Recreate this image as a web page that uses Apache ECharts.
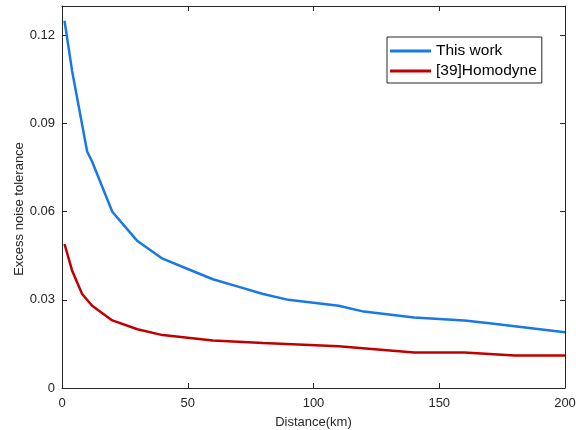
<!DOCTYPE html>
<html><head><meta charset="utf-8">
<script src="https://cdn.jsdelivr.net/npm/echarts@6/dist/echarts.min.js"></script>
<style>html,body{margin:0;padding:0;background:#fff}#c{width:576px;height:430px}</style>
</head><body><div id="c"></div>
<script>
const seriesNames = ['This work', '[39]Homodyne'];
const thisWorkX = [1, 4, 10, 12, 20, 30, 40, 50, 60, 70, 80, 90, 100, 110, 120, 130, 140, 150, 160, 170, 180, 190, 200];
const thisWorkY = [0.125, 0.108, 0.0805, 0.077, 0.060, 0.050, 0.044, 0.0405, 0.037, 0.0345, 0.032, 0.030, 0.029, 0.028, 0.026, 0.025, 0.024, 0.0235, 0.023, 0.022, 0.021, 0.020, 0.019];
const homodyneX = [1, 4, 8, 12, 20, 30, 40, 60, 80, 110, 140, 160, 180, 200];
const homodyneY = [0.049, 0.040, 0.032, 0.028, 0.023, 0.020, 0.018, 0.0162, 0.0153, 0.0142, 0.0121, 0.0121, 0.0111, 0.0111];
const xTicks = [0, 50, 100, 150, 200];
const yTicks = [0, 0.03, 0.06, 0.09, 0.12];
const xName = 'Distance(km)';
const yName = 'Excess noise tolerance';

const pairs = (xs, ys) => xs.map((x, i) => [x, ys[i]]);
const axisCol = '#262626';
const font = 'Liberation Sans, Arial, Helvetica, sans-serif';

const chart = echarts.init(document.getElementById('c'), null, {renderer: 'canvas'});
const baseX = {
  type: 'value', min: 0, max: 200,
  axisLine: {show: true, onZero: false, lineStyle: {color: axisCol, width: 1}},
  axisTick: {show: true, inside: true, length: 5, customValues: xTicks, lineStyle: {color: axisCol}},
  splitLine: {show: false}
};
const baseY = {
  type: 'value', min: 0, max: 0.13,
  axisLine: {show: true, onZero: false, lineStyle: {color: axisCol, width: 1}},
  axisTick: {show: true, inside: true, length: 5, customValues: yTicks, lineStyle: {color: axisCol}},
  splitLine: {show: false}
};
chart.setOption({
  animation: false,
  backgroundColor: '#fff',
  grid: {left: 62, right: 11, top: 6, bottom: 42, containLabel: false, outerBoundsMode: 'none'},
  xAxis: [
    Object.assign({}, baseX, {
      position: 'bottom',
      name: xName, nameLocation: 'middle', nameGap: 28, nameMoveOverlap: false,
      nameTextStyle: {color: axisCol, fontSize: 13, fontFamily: font},
      axisLabel: {show: true, customValues: xTicks, color: axisCol, fontSize: 13, fontFamily: font, margin: 9}
    }),
    Object.assign({}, baseX, {position: 'top', axisLabel: {show: false}})
  ],
  yAxis: [
    Object.assign({}, baseY, {
      position: 'left',
      name: yName, nameLocation: 'middle', nameGap: 36, nameMoveOverlap: false,
      nameTextStyle: {color: axisCol, fontSize: 13, fontFamily: font, padding: [0, 24, 0, 0]},
      axisLabel: {show: true, customValues: yTicks, color: axisCol, fontSize: 13, fontFamily: font, margin: 7}
    }),
    Object.assign({}, baseY, {position: 'right', axisLabel: {show: false}})
  ],
  legend: {
    orient: 'vertical', left: 387, top: 37,
    padding: [6, 5, 4, 3],
    borderColor: '#262626', borderWidth: 1, backgroundColor: '#fff',
    itemWidth: 41, itemHeight: 3, itemGap: 4,
    icon: 'rect',
    textStyle: {color: '#000', fontSize: 15.5, fontFamily: font, lineHeight: 16},
    data: seriesNames
  },
  series: [
    {name: seriesNames[0], type: 'line', symbol: 'none', data: pairs(thisWorkX, thisWorkY),
     lineStyle: {color: '#1878E8', width: 2.5}, itemStyle: {color: '#1878E8'}},
    {name: seriesNames[1], type: 'line', symbol: 'none', data: pairs(homodyneX, homodyneY),
     lineStyle: {color: '#C00000', width: 2.5}, itemStyle: {color: '#C00000'}}
  ]
});
</script></body></html>
